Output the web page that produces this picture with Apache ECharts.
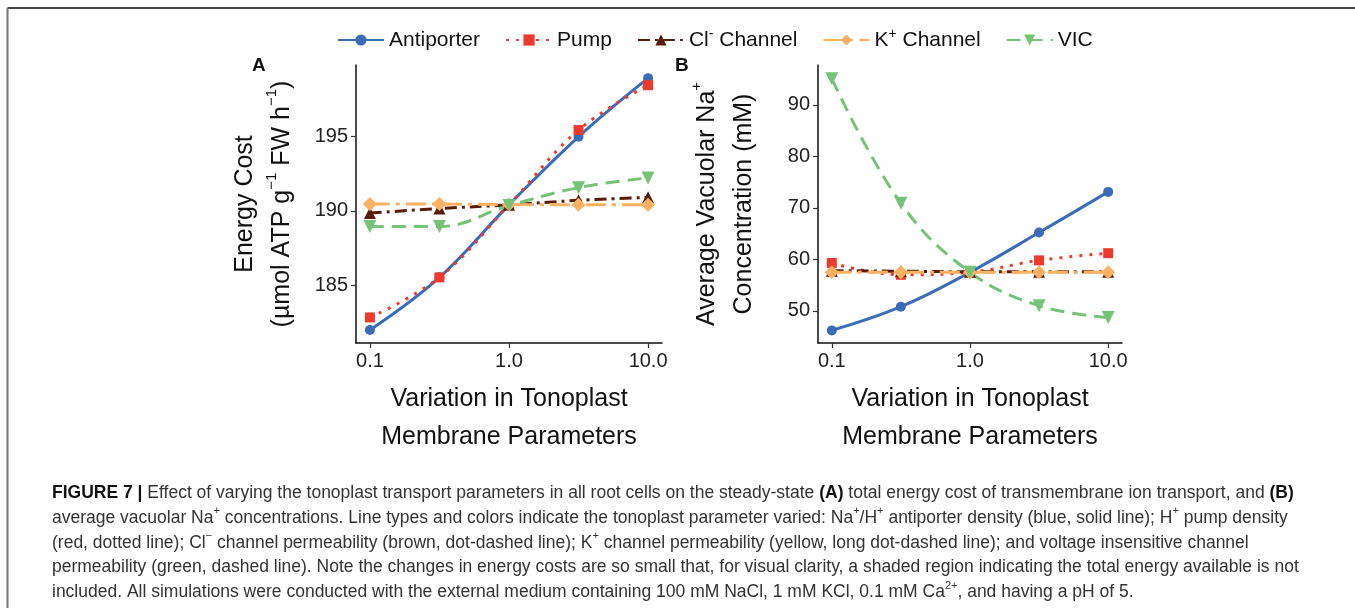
<!DOCTYPE html>
<html>
<head>
<meta charset="utf-8">
<script src="https://cdn.jsdelivr.net/npm/echarts@6/dist/echarts.min.js"></script>
<style>
  html, body { margin: 0; padding: 0; background: #fff; }
  #main { width: 1355px; height: 608px; }
</style>
</head>
<body>
<div id="main"></div>
<script>
// variation factor of the tonoplast parameter (log axis)
var xVals = [0.1, 0.316, 1, 3.16, 10];
var xTicks = [0.1, 1, 10];

var seriesNames = ['Antiporter', 'Pump', 'Cl- Channel', 'K+ Channel', 'VIC'];

// panel A: energy cost
var energyAntiporter = [182.03, 185.55, 190.4, 194.95, 198.87];
var energyPump = [182.87, 185.55, 190.4, 195.4, 198.4];
var energyCl = [189.85, 190.15, 190.4, 190.7, 190.9];
var energyK = [190.45, 190.45, 190.42, 190.4, 190.4];
var energyVic = [188.95, 188.95, 190.35, 191.55, 192.2];
var energyTicks = [185, 190, 195];

// panel B: average vacuolar Na+
var naAntiporter = [46.2, 50.8, 57.5, 65.2, 73.1];
var naPump = [59.3, 57.0, 57.5, 59.8, 61.2];
var naCl = [57.8, 57.7, 57.6, 57.6, 57.6];
var naK = [57.5, 57.5, 57.5, 57.5, 57.5];
var naVic = [95.1, 70.9, 57.5, 51.0, 48.7];
var naTicks = [50, 60, 70, 80, 90];

var FONT = '"Liberation Sans", Arial, sans-serif';

var styles = {
  'Antiporter': { color: '#3b6cb7', type: 'solid', symbol: 'circle', size: 10, rotate: 0 },
  'Pump': { color: '#ee3a2e', type: [3, 7], symbol: 'rect', size: 10, rotate: 0 },
  'Cl- Channel': { color: '#5a1c0a', type: [12, 5, 3, 5], symbol: 'triangle', size: 12, rotate: 0 },
  'K+ Channel': { color: '#fbb160', type: [20, 6, 4, 6], symbol: 'diamond', size: 14, rotate: 0 },
  'VIC': { color: '#75c377', type: [14, 8], symbol: 'triangle', size: 13, rotate: 180 }
};

function toPoints(vals) {
  return xVals.map(function (x, i) { return [Math.log10(x), vals[i]]; });
}

function makeSeries(name, vals, idx) {
  var s = styles[name];
  return {
    name: name,
    type: 'line',
    xAxisIndex: idx,
    yAxisIndex: idx,
    data: toPoints(vals),
    smooth: 0.4,
    symbol: s.symbol,
    symbolSize: s.size,
    symbolRotate: s.rotate,
    showSymbol: true,
    itemStyle: { color: s.color },
    lineStyle: { color: s.color, width: 3, type: s.type }
  };
}

function xAxisCfg(idx) {
  return {
    type: 'value',
    gridIndex: idx,
    min: -1.1,
    max: 1.1,
    name: 'Variation in Tonoplast\nMembrane Parameters',
    nameLocation: 'middle',
    nameGap: 37,
    nameTextStyle: { fontFamily: FONT, fontSize: 25, color: '#111', lineHeight: 38 },
    axisLine: { onZero: false, lineStyle: { color: '#111', width: 1.5 } },
    axisTick: { length: 5, lineStyle: { color: '#333', width: 1.2 }, customValues: xTicks.map(Math.log10) },
    axisLabel: {
      customValues: xTicks.map(Math.log10),
      fontFamily: FONT, fontSize: 20, color: '#222', margin: 8,
      formatter: function (v) { return Math.pow(10, v).toFixed(1); }
    },
    splitLine: { show: false }
  };
}

function yAxisCfg(idx, min, max, ticks, name) {
  return {
    type: 'value',
    gridIndex: idx,
    min: min,
    max: max,
    name: name,
    nameLocation: 'middle',
    nameRotate: 90,
    nameGap: 55,
    nameTextStyle: {
      fontFamily: FONT, fontSize: 25, color: '#111', lineHeight: 37,
      rich: { sup: { fontSize: 15, verticalAlign: 'top', fontFamily: FONT, color: '#111' } }
    },
    axisLine: { show: true, onZero: false, lineStyle: { color: '#111', width: 1.5 } },
    axisTick: { show: true, length: 5, lineStyle: { color: '#333', width: 1.2 }, customValues: ticks },
    axisLabel: { customValues: ticks, fontFamily: FONT, fontSize: 20, color: '#222', margin: 8 },
    splitLine: { show: false }
  };
}

var caption =
  '{b|FIGURE 7 |} Effect of varying the tonoplast transport parameters in all root cells on the steady-state {b|(A)} total energy cost of transmembrane ion transport, and {b|(B)}\n' +
  'average vacuolar Na{sup|+} concentrations. Line types and colors indicate the tonoplast parameter varied: Na{sup|+}/H{sup|+} antiporter density (blue, solid line); H{sup|+} pump density\n' +
  '(red, dotted line); Cl{sup|\u2212} channel permeability (brown, dot-dashed line); K{sup|+} channel permeability (yellow, long dot-dashed line); and voltage insensitive channel\n' +
  'permeability (green, dashed line). Note the changes in energy costs are so small that, for visual clarity, a shaded region indicating the total energy available is not\n' +
  'included. All simulations were conducted with the external medium containing 100 mM NaCl, 1 mM KCl, 0.1 mM Ca{sup|2+}, and having a pH of 5.';

var chart = echarts.init(document.getElementById('main'));
var option = {
  backgroundColor: '#fff',
  animation: false,
  legend: {
    data: seriesNames,
    left: 332,
    top: 22,
    itemWidth: 46,
    itemHeight: 14,
    itemGap: 25,
    formatter: function (name) {
      if (name === 'Cl- Channel') return 'Cl{sup|-} Channel';
      if (name === 'K+ Channel') return 'K{sup|+} Channel';
      return name;
    },
    textStyle: {
      fontFamily: FONT, fontSize: 21, color: '#111', lineHeight: 26,
      rich: { sup: { fontSize: 14, verticalAlign: 'top', fontFamily: FONT, color: '#111' } }
    }
  },
  grid: [
    { left: 356, top: 65, width: 306, height: 278 },
    { left: 818, top: 65, width: 304, height: 278 }
  ],
  xAxis: [xAxisCfg(0), xAxisCfg(1)],
  yAxis: [
    yAxisCfg(0, 181.16, 199.75, energyTicks, 'Energy Cost\n(\u00b5mol ATP g{sup|\u22121} FW h{sup|\u22121})'),
    yAxisCfg(1, 43.75, 97.75, naTicks, 'Average Vacuolar Na{sup|+}\nConcentration (mM)')
  ],
  series: [
    makeSeries('Antiporter', energyAntiporter, 0),
    makeSeries('Pump', energyPump, 0),
    makeSeries('Cl- Channel', energyCl, 0),
    makeSeries('K+ Channel', energyK, 0),
    makeSeries('VIC', energyVic, 0),
    makeSeries('Antiporter', naAntiporter, 1),
    makeSeries('Pump', naPump, 1),
    makeSeries('Cl- Channel', naCl, 1),
    makeSeries('K+ Channel', naK, 1),
    makeSeries('VIC', naVic, 1)
  ],
  graphic: [
    // figure frame (top and left rules)
    { type: 'line', shape: { x1: 7.5, y1: 8, x2: 1355, y2: 8 }, style: { stroke: '#444', lineWidth: 2 } },
    { type: 'line', shape: { x1: 7.5, y1: 8, x2: 7.5, y2: 608 }, style: { stroke: '#777', lineWidth: 2 } },
    // panel letters
    { type: 'text', left: 252, top: 56, style: { text: 'A', fontFamily: FONT, fontSize: 19, fontWeight: 'bold', fill: '#111' } },
    { type: 'text', left: 675, top: 56, style: { text: 'B', fontFamily: FONT, fontSize: 19, fontWeight: 'bold', fill: '#111' } },
    // caption
    {
      type: 'text', left: 52, top: 481,
      style: {
        text: caption,
        fontFamily: FONT, fontSize: 17.5, fill: '#333', lineHeight: 24.75,
        rich: {
          b: { fontFamily: FONT, fontSize: 17.5, fontWeight: 'bold', fill: '#111', lineHeight: 24.75 },
          sup: { fontFamily: FONT, fontSize: 11, fill: '#333', verticalAlign: 'top' }
        }
      }
    }
  ]
};
chart.setOption(option);
</script>
</body>
</html>
